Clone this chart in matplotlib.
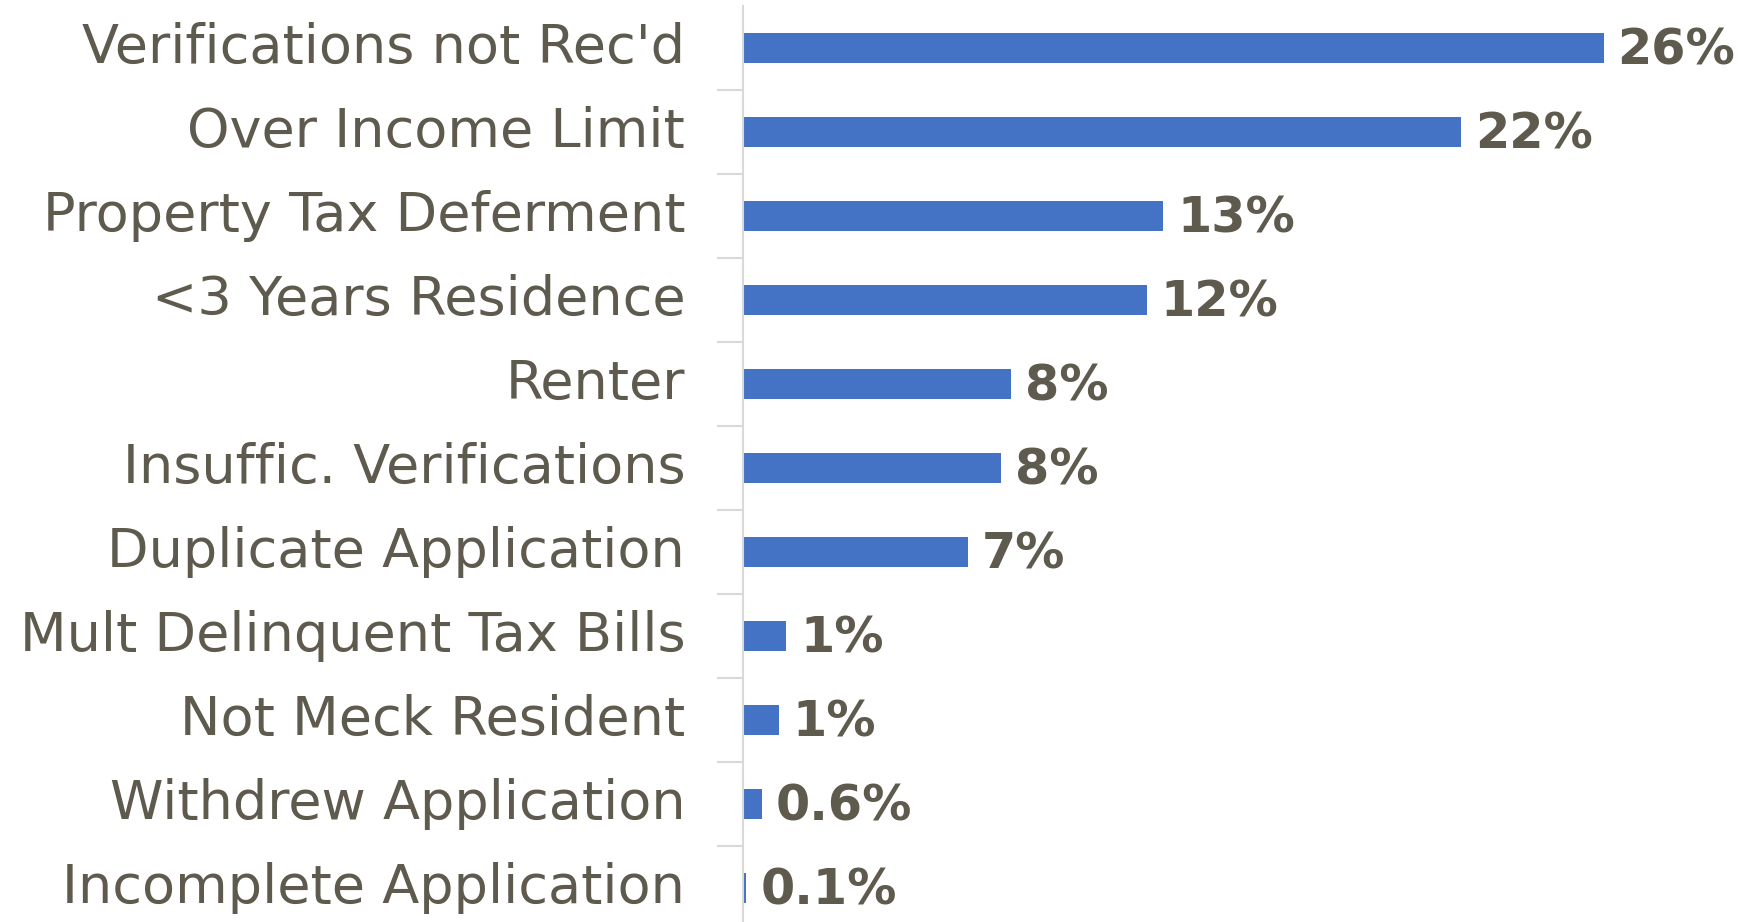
"""
Reasons for application denial: horizontal bar chart with percent labels.
"""

import matplotlib
matplotlib.use("Agg")
import matplotlib.pyplot as plt

categories = [
    "Verifications not Rec'd",
    "Over Income Limit",
    "Property Tax Deferment",
    "<3 Years Residence",
    "Renter",
    "Insuffic. Verifications",
    "Duplicate Application",
    "Mult Delinquent Tax Bills",
    "Not Meck Resident",
    "Withdrew Application",
    "Incomplete Application",
]
values = [26.0, 21.7, 12.7, 12.2, 8.1, 7.8, 6.8, 1.3, 1.07, 0.57, 0.1]
value_labels = ["26%", "22%", "13%", "12%", "8%", "8%", "7%", "1%", "1%", "0.6%", "0.1%"]

BAR_COLOR = "#4472C4"
TEXT_COLOR = "#5E5A4E"
GRID_COLOR = "#D9D9D9"


def main():
    fig = plt.figure(figsize=(17.46, 9.22), dpi=100)
    ax = fig.add_axes([0.4256, -8 / 922, 0.5744, 924 / 922])

    y = list(range(len(categories)))
    ax.barh(y, values, height=0.36, color=BAR_COLOR)
    ax.set_ylim(len(categories) - 0.5, -0.5)
    ax.set_xlim(0, 30.3)

    for yi, v, lab in zip(y, values, value_labels):
        ax.text(v + 0.42, yi + 0.03, lab, va="center", ha="left", fontsize=35.5,
                fontweight="bold", color=TEXT_COLOR)

    # category labels placed as text so ticks can sit between categories
    ax.set_yticks([i + 0.5 for i in range(len(categories) - 1)])
    ax.set_yticklabels([])
    ax.tick_params(axis="y", length=19, width=1.5, color=GRID_COLOR)
    for yi, cat in zip(y, categories):
        ax.text(-1.75, yi, cat, va="center", ha="right", fontsize=39,
                color=TEXT_COLOR)

    ax.set_xticks([])
    for side in ["top", "right", "bottom"]:
        ax.spines[side].set_visible(False)
    ax.spines["left"].set_color(GRID_COLOR)
    ax.spines["left"].set_linewidth(1.5)

    fig.savefig("out.png", dpi=100)
    plt.close(fig)


if __name__ == "__main__":
    main()
